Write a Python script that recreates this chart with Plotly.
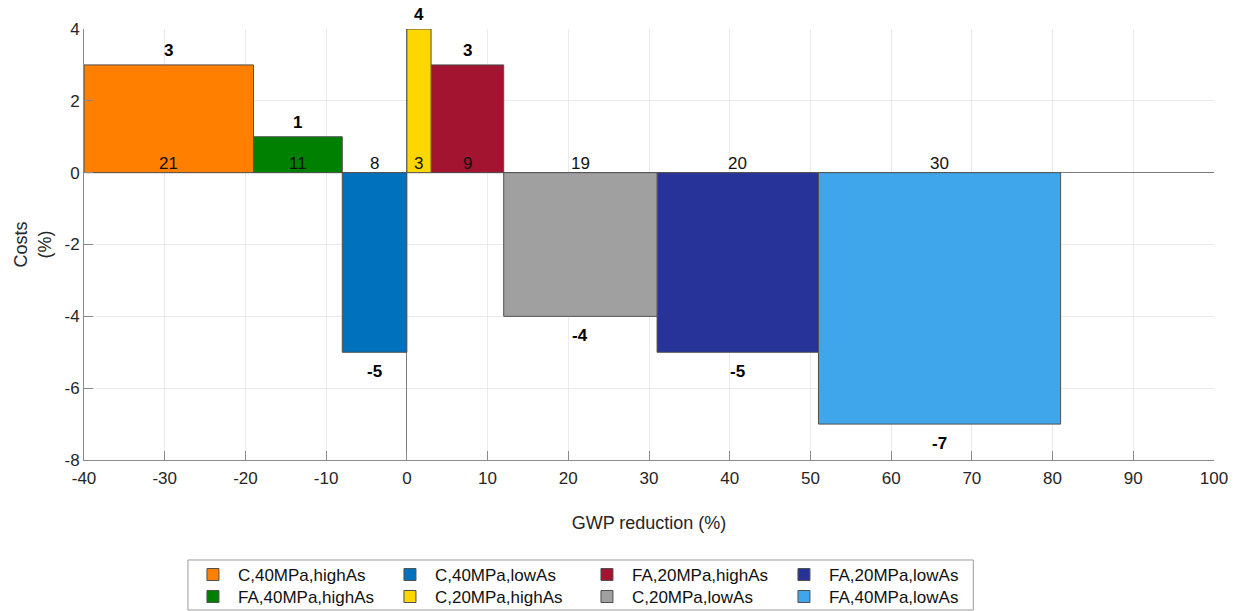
import plotly.graph_objects as go
import numpy as np

# ---- data ----
names = ["C,40MPa,highAs", "FA,40MPa,highAs", "C,40MPa,lowAs", "C,20MPa,highAs",
         "FA,20MPa,highAs", "C,20MPa,lowAs", "FA,20MPa,lowAs", "FA,40MPa,lowAs"]
gwp_widths = [21, 11, 8, 3, 9, 19, 20, 30]      # GWP reduction span (%)
costs = [3, 1, -5, 4, 3, -4, -5, -7]              # cost change (%)
x_start = -40
colors = ["#FF8000", "#008000", "#0072BD", "#FFD700",
          "#A2142F", "#A0A0A0", "#28339A", "#3FA6EC"]
x_ticks = list(range(-40, 101, 10))
y_ticks = list(range(-8, 5, 2))

edges = x_start + np.concatenate([[0], np.cumsum(gwp_widths)])
centers = (edges[:-1] + edges[1:]) / 2

FONT = "Liberation Sans, Arial, Helvetica, sans-serif"
fig = go.Figure()

# legend layout: 2 rows x 4 columns, filled column-wise
row_of = [0, 1, 0, 1, 0, 1, 0, 1]
order = [0, 2, 4, 6, 1, 3, 5, 7]
for i in order:
    fig.add_trace(go.Bar(
        x=[centers[i]], y=[costs[i]], width=[gwp_widths[i]],
        name=names[i], marker=dict(color=colors[i], line=dict(color="#505050", width=1)),
        legend="legend" if row_of[i] == 0 else "legend2",
        hoverinfo="x+y+name",
    ))

annotations = []
for i in range(len(names)):
    if costs[i] >= 0:
        annotations.append(dict(x=centers[i], y=costs[i], text=f"<b>{costs[i]}</b>",
                                showarrow=False, yanchor="bottom", yshift=3,
                                font=dict(size=17, color="black", family=FONT)))
    else:
        annotations.append(dict(x=centers[i], y=costs[i], text=f"<b>{costs[i]}</b>",
                                showarrow=False, yanchor="top", yshift=-8,
                                font=dict(size=17, color="black", family=FONT)))
    annotations.append(dict(x=centers[i], y=0, text=str(gwp_widths[i]),
                            showarrow=False, yanchor="bottom", yshift=-2,
                            font=dict(size=17, color="#111111", family=FONT)))

axis_common = dict(showgrid=True, gridcolor="#EBEBEB", gridwidth=1,
                   showline=True, linecolor="#8A8A8A", linewidth=1,
                   ticks="inside", ticklen=9, tickcolor="#8A8A8A",
                   tickfont=dict(size=17, color="#262626", family=FONT),
                   zeroline=True, zerolinecolor="#7A7A7A", zerolinewidth=1.2,
                   mirror=False)

fig.update_layout(
    width=1229, height=603,
    margin=dict(l=76, r=23, t=21, b=151, autoexpand=False),
    paper_bgcolor="white", plot_bgcolor="white",
    barmode="overlay",
    font=dict(family=FONT, size=17, color="#262626"),
    xaxis=dict(range=[-40, 100], tickvals=x_ticks, ticktext=[str(v) for v in x_ticks],
               ticklabelstandoff=3,
               title=dict(text="GWP reduction (%)", standoff=28,
                          font=dict(size=18, color="#262626")),
               **axis_common),
    yaxis=dict(range=[-8, 4], tickvals=y_ticks, ticktext=[str(v) for v in y_ticks],
               title=dict(text="Costs<br>(%)", standoff=8,
                          font=dict(size=18, color="#262626")),
               **axis_common),
    annotations=annotations,
    legend=dict(orientation="h", x=0.092, xanchor="left", y=-0.225, yanchor="top",
                entrywidth=142, entrywidthmode="pixels", itemwidth=40,
                bgcolor="rgba(0,0,0,0)", borderwidth=0,
                font=dict(size=17, color="#111111", family=FONT), traceorder="normal"),
    legend2=dict(orientation="h", x=0.092, xanchor="left", y=-0.276, yanchor="top",
                 entrywidth=142, entrywidthmode="pixels", itemwidth=40,
                 bgcolor="rgba(0,0,0,0)", borderwidth=0,
                 font=dict(size=17, color="#111111", family=FONT), traceorder="normal"),
    shapes=[dict(type="rect", xref="paper", yref="paper",
                 x0=0.092, x1=0.787, y0=-0.348, y1=-0.232,
                 line=dict(color="#9A9A9A", width=1), fillcolor="rgba(0,0,0,0)", layer="below")],
    showlegend=True,
)

fig.write_html("out.html")
